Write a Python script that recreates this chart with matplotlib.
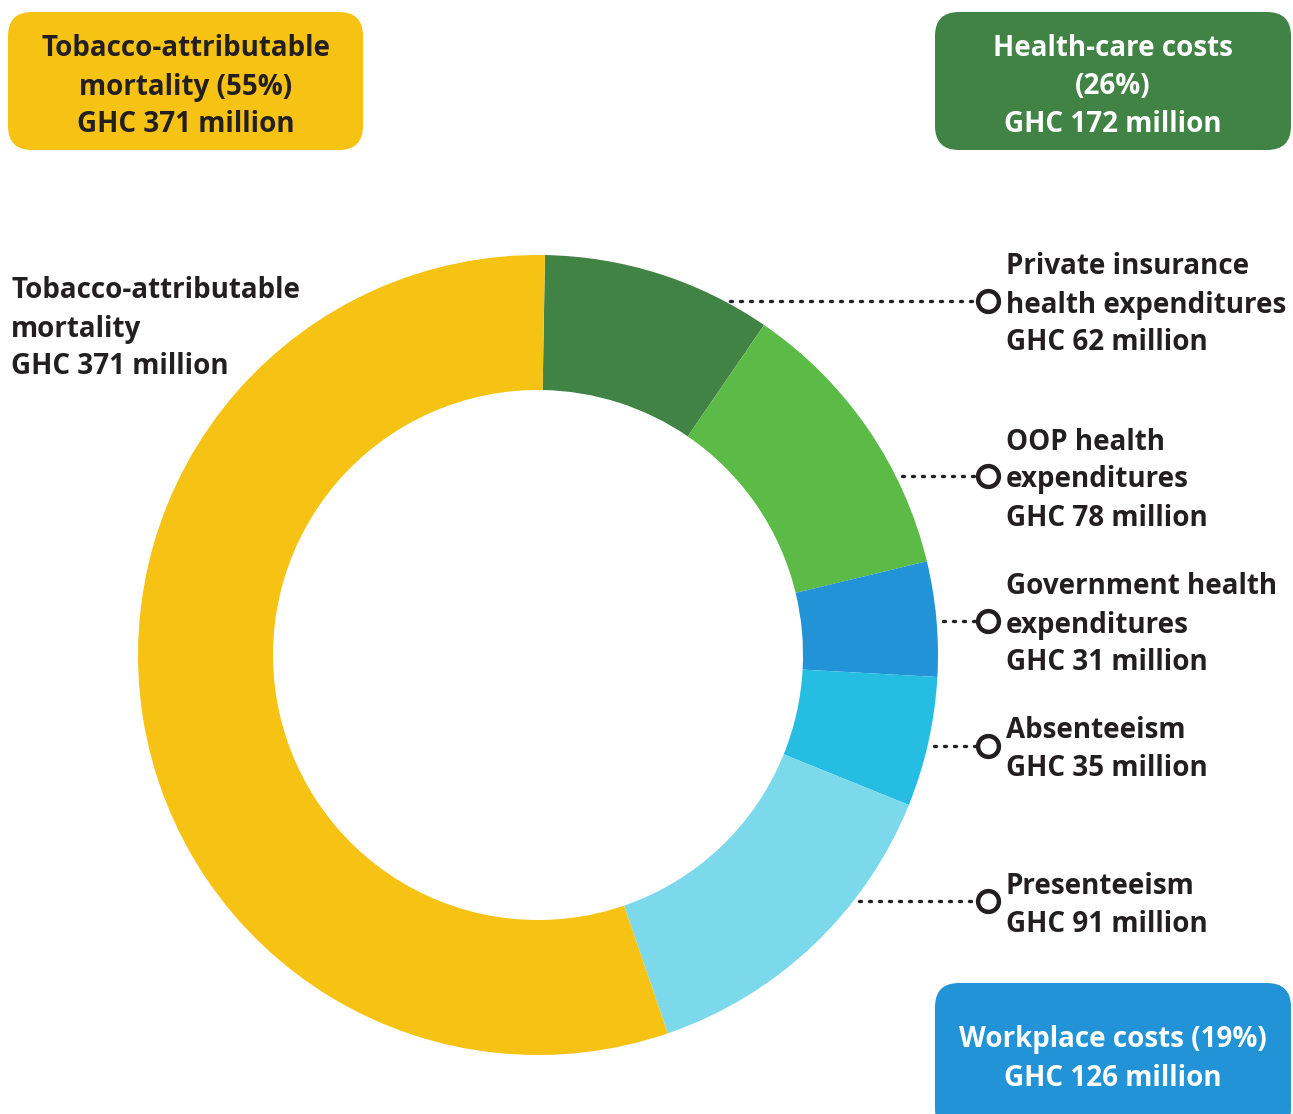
import matplotlib
matplotlib.use("Agg")
import matplotlib.pyplot as plt
import numpy as np
from matplotlib.patches import FancyBboxPatch

plt.rcParams['font.family'] = ['Open Sans', 'DejaVu Sans']

# Cost components, GHC million, clockwise from the top
categories = ["Private insurance health expenditures", "OOP health expenditures",
              "Government health expenditures", "Absenteeism", "Presenteeism",
              "Tobacco-attributable mortality"]
values = [62, 78, 31, 35, 91, 371]
colors = ["#418245", "#5CBA47", "#2193D6", "#25BDE2", "#7CD9EC", "#F6C315"]

# Callout labels on the right (one entry per small segment)
right_labels = [
    ["Private insurance", "health expenditures", "GHC 62 million"],
    ["OOP health", "expenditures", "GHC 78 million"],
    ["Government health", "expenditures", "GHC 31 million"],
    ["Absenteeism", "GHC 35 million"],
    ["Presenteeism", "GHC 91 million"],
]
right_label_y = [301, 476, 621, 746, 901]
left_label = ["Tobacco-attributable", "mortality", "GHC 371 million"]

# Group summary boxes
group_titles = [
    ["Tobacco-attributable", "mortality (55%)", "GHC 371 million"],
    ["Health-care costs", "(26%)", "GHC 172 million"],
    ["Workplace costs (19%)", "GHC 126 million"],
]
group_colors = ["#F6C315", "#418245", "#2193D6"]
group_text_colors = ["#231F20", "white", "white"]

W, H = 1293, 1114
DARK = "#231F20"
FS = 20
LINE = 38

fig = plt.figure(figsize=(W / 100, H / 100), dpi=100)
ax = fig.add_axes([0, 0, 1, 1])
ax.set_xlim(0, W)
ax.set_ylim(0, H)
ax.set_aspect('equal')
ax.axis('off')

cx, cy, R = 538, H - 655, 400
ax.pie(values, colors=colors, startangle=89, counterclock=False,
       center=(cx, cy), radius=R, frame=True,
       wedgeprops=dict(width=135, linewidth=0))
ax.set_xlim(0, W)
ax.set_ylim(0, H)
ax.axis('off')


def text_block(x, y_top_center, lines, ha='left', color=DARK):
    for i, s in enumerate(lines):
        ax.text(x, H - (y_top_center + 4 + i * LINE), s, ha=ha, va='center',
                fontsize=FS, fontweight='bold', color=color)


# right-hand callouts with dotted leaders
for lines, ly in zip(right_labels, right_label_y):
    y = H - ly
    dy = y - cy
    x0 = cx + np.sqrt(R ** 2 - dy ** 2) + 6
    ax.plot([x0, 980], [y, y], color=DARK, lw=2.4,
            linestyle=(0, (0.6, 2.4)), dash_capstyle='round')
    ax.plot([988], [y], marker='o', ms=15, mfc='white', mec=DARK, mew=3.2)
    top = ly - (len(lines) - 1) * LINE / 2
    text_block(1006, top, lines)

text_block(11, 287, left_label)

# summary boxes
boxes = [(8, 12, 355, 138), (935, 12, 356, 138), (935, 983, 356, 150)]
for (bx, by, bw, bh), col, lines, tc in zip(boxes, group_colors, group_titles,
                                            group_text_colors):
    p = FancyBboxPatch((bx, H - by - bh), bw, bh,
                       boxstyle="round,pad=0,rounding_size=24",
                       fc=col, ec='none', clip_on=False)
    ax.add_patch(p)
    first = 45 if len(lines) == 3 else 1036
    text_block(bx + bw / 2, first, lines, ha='center', color=tc)

fig.savefig("out.png", dpi=100, facecolor='white')
